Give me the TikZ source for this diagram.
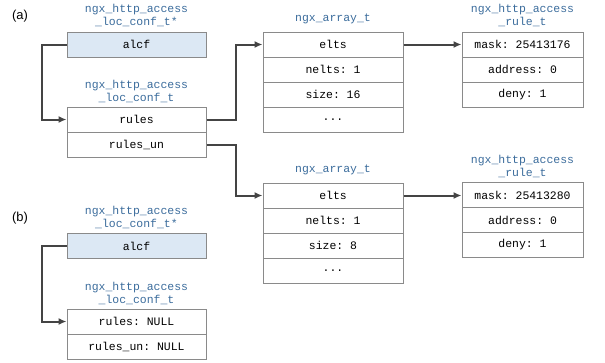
\documentclass[tikz,border=0pt]{standalone}
\usepackage{fontspec}
\setmainfont{Liberation Sans}
\setmonofont{Liberation Mono}
\usetikzlibrary{arrows.meta}
\definecolor{typeblue}{HTML}{3B6C9C}
\definecolor{ptrfill}{HTML}{DCE8F4}
\definecolor{edgegray}{HTML}{8A8A8A}
\definecolor{linkgray}{HTML}{444444}
\tikzset{
  field/.style={draw=edgegray, line width=1bp, fill=white, minimum height=25bp,
    inner sep=0pt, font=\ttfamily\fontsize{11.5}{13}\selectfont, text=black},
  wide/.style={field, minimum width=139bp},
  arr/.style={field, minimum width=140bp},
  rule/.style={field, minimum width=121bp},
  ptr/.style={wide, fill=ptrfill},
  typename/.style={align=center, inner sep=0pt, text=typeblue,
    font=\ttfamily\fontsize{11.5}{13}\selectfont},
  tag/.style={inner sep=0pt, font=\fontsize{13}{15}\selectfont},
  link/.style={draw=linkgray, line width=2bp, -{Latex[length=8bp,width=7bp]}}
}
\begin{document}
\begin{tikzpicture}[x=1bp, y=-1bp]
\useasboundingbox (0,0) rectangle (605,362);

% ---- (a) ----
\node[tag] (tagA) at (20,16) {(a)};
\node[typename] (tA1) at (136.5,15.5) {ngx\_http\_access\\\_loc\_conf\_t*};
\node[ptr] (alcfA) at (136.5,44.5) {alcf};
\node[typename] (tA2) at (136.5,91) {ngx\_http\_access\\\_loc\_conf\_t};
\node[wide] (rulesA) at (136.5,119.5) {rules};
\node[wide] (rulesunA) at (136.5,144.5) {rules\_un};

\node[typename] (tArr1) at (333,19) {ngx\_array\_t};
\node[arr] (elts1) at (333,44.5) {elts};
\node[arr] (nelts1) at (333,69.5) {nelts: 1};
\node[arr] (size1) at (333,94.5) {size: 16};
\node[arr] (more1) at (333,119.5) {...};

\node[typename] (tRule1) at (522.5,15.5) {ngx\_http\_access\\\_rule\_t};
\node[rule] (mask1) at (522.5,44.5) {mask: 25413176};
\node[rule] (addr1) at (522.5,69.5) {address: 0};
\node[rule] (deny1) at (522.5,94.5) {deny: 1};

\node[typename] (tArr2) at (333,170) {ngx\_array\_t};
\node[arr] (elts2) at (333,195.5) {elts};
\node[arr] (nelts2) at (333,220.5) {nelts: 1};
\node[arr] (size2) at (333,245.5) {size: 8};
\node[arr] (more2) at (333,270.5) {...};

\node[typename] (tRule2) at (522.5,166) {ngx\_http\_access\\\_rule\_t};
\node[rule] (mask2) at (522.5,195) {mask: 25413280};
\node[rule] (addr2) at (522.5,220) {address: 0};
\node[rule] (deny2) at (522.5,245) {deny: 1};

\draw[link] (alcfA.west) -- ++(-24,0) |- (rulesA.west);
\draw[link] (rulesA.east) -- ++(29,0) |- (elts1.west);
\draw[link] (rulesunA.east) -- ++(29,0) |- (elts2.west);
\draw[link] (elts1.east) -- (elts1.east -| mask1.west);
\draw[link] (elts2.east) -- (elts2.east -| mask2.west);

% ---- (b) ----
\node[tag] (tagB) at (20,218) {(b)};
\node[typename] (tB1) at (136.5,217.5) {ngx\_http\_access\\\_loc\_conf\_t*};
\node[ptr] (alcfB) at (136.5,246) {alcf};
\node[typename] (tB2) at (136.5,293) {ngx\_http\_access\\\_loc\_conf\_t};
\node[wide] (rulesB) at (136.5,321.5) {rules: NULL};
\node[wide] (rulesunB) at (136.5,346.5) {rules\_un: NULL};

\draw[link] (alcfB.west) -- ++(-24,0) |- (rulesB.west);
\end{tikzpicture}
\end{document}
